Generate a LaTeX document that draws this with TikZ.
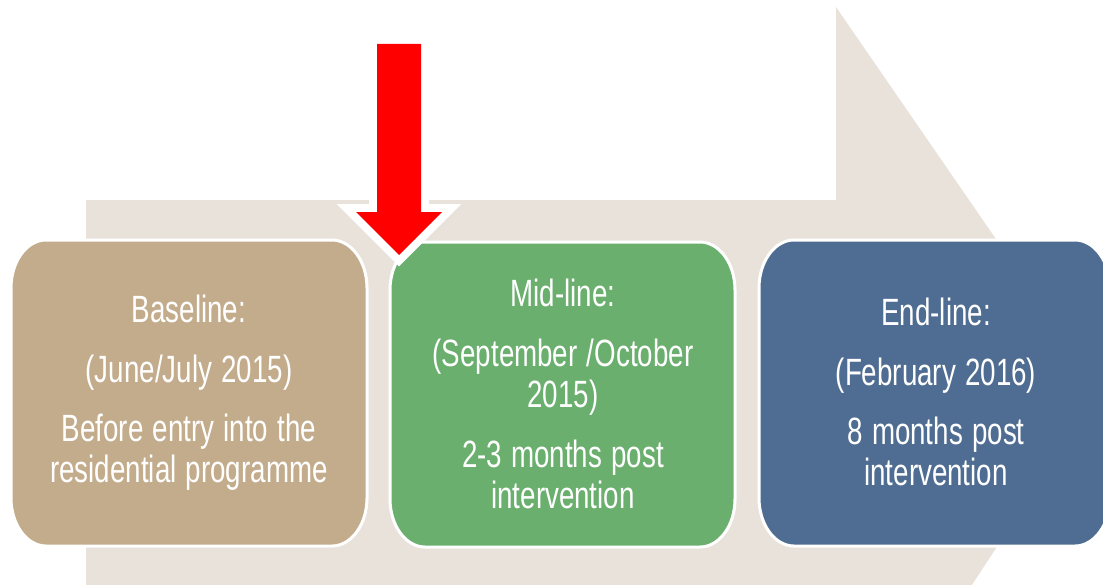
\documentclass[tikz,border=0pt]{standalone}
\usepackage{fontspec}
\setmainfont{Liberation Sans}[FakeStretch=0.73, WordSpace=1.2]
\definecolor{arrowbg}{HTML}{E8E2DB}
\definecolor{boxtan}{HTML}{C3AC8C}
\definecolor{boxgreen}{HTML}{6AAF6E}
\definecolor{boxblue}{HTML}{4F6D92}
\definecolor{redarrow}{HTML}{FF0000}
\newcommand\rbox[7]{%
\path[#7] ({#1},{#2+#6}) .. controls ({#1},{#2+0.448*#6}) and ({#1+0.448*#5},{#2}) .. ({#1+#5},{#2})
 -- ({#3-#5},{#2}) .. controls ({#3-0.448*#5},{#2}) and ({#3},{#2+0.448*#6}) .. ({#3},{#2+#6})
 -- ({#3},{#4-#6}) .. controls ({#3},{#4-0.448*#6}) and ({#3-0.448*#5},{#4}) .. ({#3-#5},{#4})
 -- ({#1+#5},{#4}) .. controls ({#1+0.448*#5},{#4}) and ({#1},{#4-0.448*#6}) .. ({#1},{#4-#6}) -- cycle;}
\tikzset{
  stagebox/.style={draw=white, line width=2.25pt},
  stagetext/.style={text=white, align=center, font=\fontsize{28.5pt}{30.75pt}\selectfont, inner sep=0pt},
}
\begin{document}
\begin{tikzpicture}[x=0.75pt,y=-0.75pt]
\useasboundingbox (0,0) rectangle (1103,585);
\clip (0,0) rectangle (1103,585);
% big background arrow
\fill[arrowbg] (86,200) -- (836,200) -- (836,7) -- (1100,390) -- (962,600) -- (86,600) -- cycle;
% stage boxes
\rbox{11}{240}{367}{546}{35}{48}{stagebox, fill=boxtan}
\rbox{390}{242}{735}{547}{35}{48}{stagebox, fill=boxgreen}
\rbox{759}{240}{1110}{546}{35}{48}{stagebox, fill=boxblue}
% texts
\node[stagetext] (t1) at (189,393) {Baseline:\\[14pt](June/July 2015)\\[14pt]Before entry into the\\residential programme};
\node[stagetext] (t2) at (563,394) {Mid-line:\\[14pt](September /October\\2015)\\[14pt]2-3 months post\\intervention};
\node[stagetext] (t3) at (936,392) {End-line:\\[14pt](February 2016)\\[14pt]8 months post\\intervention};
% red arrow
\path[draw=white, line width=12pt, line join=miter, fill=white]
  (377,44) -- (421,44) -- (421,212) -- (442,212) -- (399,255) -- (356,212) -- (377,212) -- cycle;
\fill[redarrow] (377,44) -- (421,44) -- (421,212) -- (442,212) -- (399,255) -- (356,212) -- (377,212) -- cycle;
\end{tikzpicture}
\end{document}
